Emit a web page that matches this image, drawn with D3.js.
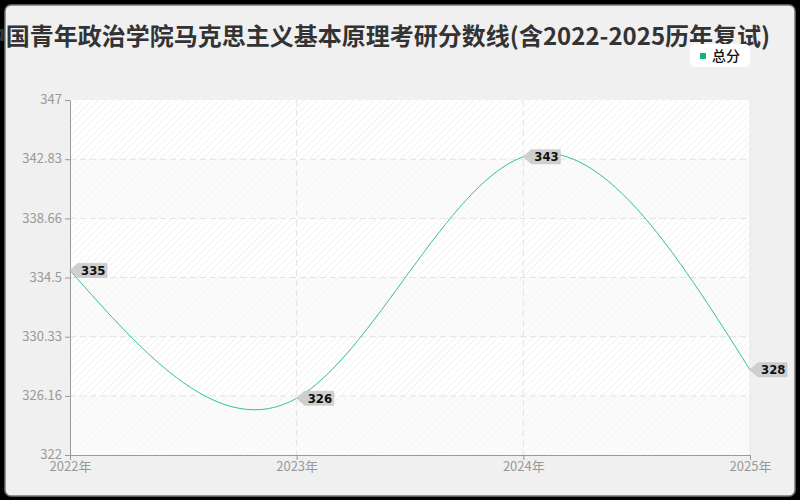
<!DOCTYPE html>
<html>
<head>
<meta charset="utf-8">
<script src="https://cdn.jsdelivr.net/npm/d3@7"></script>
<style>
  html, body { margin: 0; padding: 0; background: #000; }
  svg { display: block; }
</style>
</head>
<body>
<div id="chart"></div>
<script>
const title = "中国青年政治学院马克思主义基本原理考研分数线(含2022-2025历年复试)";
const seriesName = "总分";
const years = [2022, 2023, 2024, 2025];
const scores = [335, 326, 343, 328];
const yTicks = [322, 326.16, 330.33, 334.5, 338.66, 342.83, 347];

const width = 800, height = 500;
const margin = { top: 100, right: 50, bottom: 45, left: 70 };
const plotW = width - margin.left - margin.right;
const plotH = height - margin.top - margin.bottom;

const svg = d3.select("#chart").append("svg")
    .attr("width", width)
    .attr("height", height);

// hatch patterns for the plot background
const defs = svg.append("defs");
function hatch(id, bg, line) {
    const p = defs.append("pattern")
        .attr("id", id)
        .attr("patternUnits", "userSpaceOnUse")
        .attr("width", 5)
        .attr("height", 5)
        .attr("patternTransform", "rotate(45)");
    p.append("rect").attr("width", 5).attr("height", 5).attr("fill", bg);
    p.append("line").attr("x1", 0).attr("y1", 0).attr("x2", 0).attr("y2", 5)
        .attr("stroke", line).attr("stroke-width", 1.5);
}
hatch("hatchStrong", "#ffffff", "#efefef");
hatch("hatchWeak", "#fbfbfb", "#f5f5f5");

// frame
svg.append("rect")
    .attr("x", 5).attr("y", 5)
    .attr("width", 790).attr("height", 491)
    .attr("rx", 6)
    .attr("fill", "#f0f0f0")
    .attr("stroke", "#777")
    .attr("stroke-width", 1.5);

const x = d3.scaleLinear()
    .domain([years[0], years[years.length - 1]])
    .range([0, plotW]);
const y = d3.scaleLinear()
    .domain([yTicks[0], yTicks[yTicks.length - 1]])
    .range([plotH, 0]);

const focus = svg.append("g")
    .attr("transform", "translate(" + margin.left + "," + margin.top + ")");

// alternating bands
for (let i = 0; i < yTicks.length - 1; i++) {
    focus.append("rect")
        .attr("x", 0)
        .attr("y", y(yTicks[i + 1]))
        .attr("width", plotW)
        .attr("height", y(yTicks[i]) - y(yTicks[i + 1]))
        .attr("fill", (yTicks.length - 2 - i) % 2 === 0 ? "url(#hatchStrong)" : "url(#hatchWeak)");
}

// grid
focus.append("g")
    .selectAll("line")
    .data(yTicks.slice(1, -1))
    .join("line")
    .attr("x1", 0).attr("x2", plotW)
    .attr("y1", d => y(d)).attr("y2", d => y(d))
    .attr("stroke", "#e2e2e2")
    .attr("stroke-dasharray", "6,4");
focus.append("g")
    .selectAll("line")
    .data(years.slice(1, -1))
    .join("line")
    .attr("x1", d => x(d)).attr("x2", d => x(d))
    .attr("y1", 0).attr("y2", plotH)
    .attr("stroke", "#e2e2e2")
    .attr("stroke-dasharray", "6,4");
focus.append("line")
    .attr("x1", plotW).attr("x2", plotW)
    .attr("y1", 0).attr("y2", plotH)
    .attr("stroke", "#e6e6e6");

// axes
const gY = focus.append("g")
    .call(d3.axisLeft(y).tickValues(yTicks).tickFormat(d => String(d)).tickSize(5).tickSizeOuter(0));
const gX = focus.append("g")
    .attr("transform", "translate(0," + plotH + ")")
    .call(d3.axisBottom(x).tickValues(years).tickFormat(d => d + "年").tickSize(5).tickSizeOuter(0));
[gX, gY].forEach(g => {
    g.select(".domain").attr("stroke", "#999");
    g.selectAll(".tick line").attr("stroke", "#999");
    g.selectAll("text")
        .attr("fill", "#999")
        .attr("font-size", "13px")
        .attr("font-family", "'Noto Sans CJK SC', 'Noto Sans', sans-serif");
});
gY.selectAll("text").attr("x", -8).attr("dy", "0.28em");
gX.selectAll("text").attr("y", 4).attr("dy", "0.9em");

// line
const line = d3.line()
    .x((d, i) => x(years[i]))
    .y(d => y(d))
    .curve(d3.curveNatural);
focus.append("path")
    .datum(scores)
    .attr("d", line)
    .attr("fill", "none")
    .attr("stroke", "#34c293")
    .attr("stroke-width", 1);

// value tags
const tags = focus.append("g")
    .selectAll("g")
    .data(scores)
    .join("g")
    .attr("transform", (d, i) => "translate(" + x(years[i]) + "," + y(d) + ")");
tags.append("path")
    .attr("d", "M0,0 L8,-7 L37,-7 L37,7 L8,7 Z")
    .attr("fill", "#cfcfcf")
    .attr("stroke", "#bbb")
    .attr("stroke-width", 0.5);
tags.append("text")
    .attr("x", 11)
    .attr("y", 4.5)
    .attr("font-size", "13px")
    .attr("font-weight", "bold")
    .attr("font-family", "'DejaVu Sans Condensed', 'DejaVu Sans', sans-serif")
    .attr("fill", "#111")
    .text(d => d);

// title
svg.append("text")
    .attr("x", 376)
    .attr("y", 45)
    .attr("text-anchor", "middle")
    .attr("font-size", "24px")
    .attr("font-weight", "bold")
    .attr("font-family", "'Noto Sans CJK SC', sans-serif")
    .attr("fill", "#333")
    .text(title);

// legend
const legend = svg.append("g").attr("transform", "translate(690,44)");
legend.append("rect")
    .attr("width", 60).attr("height", 23)
    .attr("rx", 5)
    .attr("fill", "#fff");
legend.append("rect")
    .attr("x", 10).attr("y", 9)
    .attr("width", 6).attr("height", 6)
    .attr("fill", "#10b583");
legend.append("text")
    .attr("x", 22).attr("y", 17)
    .attr("font-size", "14px")
    .attr("font-weight", 500)
    .attr("font-family", "'Noto Sans CJK SC', sans-serif")
    .attr("fill", "#111")
    .text(seriesName);
</script>
</body>
</html>
